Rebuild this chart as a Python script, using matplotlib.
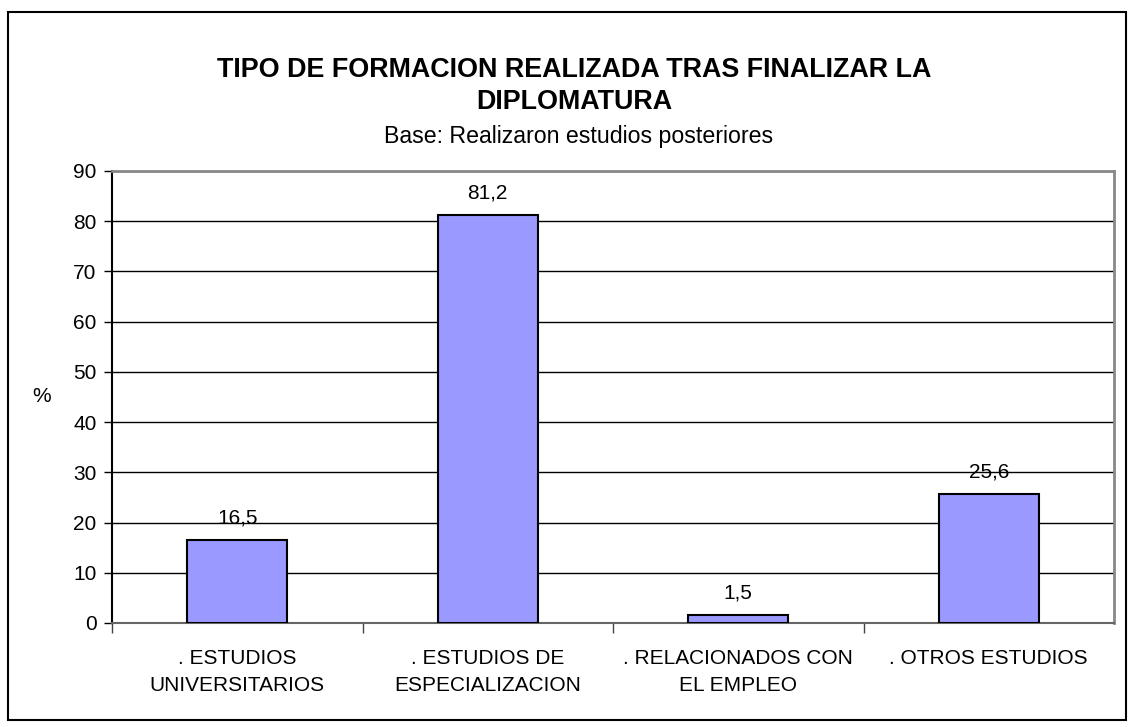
import matplotlib
matplotlib.use("Agg")
import matplotlib.pyplot as plt
from matplotlib.patches import Rectangle

categories = [". ESTUDIOS\nUNIVERSITARIOS", ". ESTUDIOS DE\nESPECIALIZACION",
              ". RELACIONADOS CON\nEL EMPLEO", ". OTROS ESTUDIOS"]
values = [16.5, 81.2, 1.5, 25.6]
value_labels = ["16,5", "81,2", "1,5", "25,6"]
yticks = [0, 10, 20, 30, 40, 50, 60, 70, 80, 90]

plt.rcParams['font.family'] = ['Liberation Sans', 'DejaVu Sans']

W, H = 1133, 727
fig = plt.figure(figsize=(W / 100, H / 100), dpi=100)
fig.patch.set_facecolor('white')

# outer border
fig.add_artist(Rectangle((8 / W, 1 - 720 / H), (1126 - 8) / W, (720 - 12) / H,
                         transform=fig.transFigure, fill=False, edgecolor='black', lw=1.5))

left, right, top, bottom = 112, 1114, 171, 623
ax = fig.add_axes([left / W, 1 - bottom / H, (right - left) / W, (bottom - top) / H])

x = list(range(len(categories)))
ax.bar(x, values, width=0.4, color='#9999FF', edgecolor='black', linewidth=1.5, zorder=3)
for xi, v, lab in zip(x, values, value_labels):
    ax.text(xi, v + 4.5, lab, ha='center', va='center', fontsize=15)

ax.set_xlim(-0.5, len(categories) - 0.5)
ax.set_ylim(0, 90)
ax.set_yticks(yticks)
ax.set_yticklabels([str(t) for t in yticks], fontsize=15)
ax.yaxis.grid(True, color='black', lw=1, zorder=0)
ax.set_axisbelow(True)

ax.set_xticks([i + 0.5 for i in range(len(categories) - 1)] + [-0.5])
ax.set_xticklabels([])
ax.tick_params(axis='x', length=7, width=1, color='#444444', direction='out')
ax.tick_params(axis='y', length=6, width=1, direction='out', pad=5)
for xi, c in zip(x, categories):
    ax.text(xi, -5.2, c, ha='center', va='top', fontsize=15, linespacing=1.5)

for s in ['top', 'right']:
    ax.spines[s].set_color('#888888')
    ax.spines[s].set_linewidth(2)
ax.spines['bottom'].set_color('#666666')
ax.spines['bottom'].set_linewidth(1.5)
ax.spines['left'].set_color('black')
ax.spines['left'].set_linewidth(1.5)

fig.text(574 / W, 1 - 86 / H, "TIPO DE FORMACION REALIZADA TRAS FINALIZAR LA\nDIPLOMATURA",
         ha='center', va='center', fontsize=19.4, fontweight='bold', linespacing=1.27)
fig.text(579 / W, 1 - 137 / H, "Base: Realizaron estudios posteriores",
         ha='center', va='center', fontsize=16.7)
fig.text(42 / W, 1 - 397 / H, "%", ha='center', va='center', fontsize=15)

fig.savefig("out.png", dpi=100, facecolor='white')
